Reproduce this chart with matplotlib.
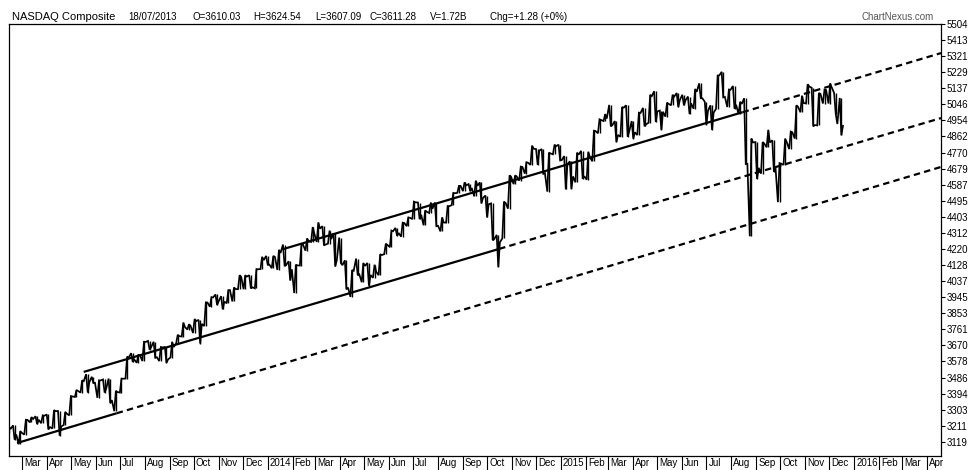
import matplotlib
matplotlib.use('Agg')
import matplotlib.pyplot as plt
import matplotlib.transforms as mtransforms
import matplotlib.dates as mdates
import pandas as pd
import numpy as np

plt.rcParams['font.family'] = ['Liberation Sans', 'DejaVu Sans']

# ---------------- data (weekly, week ending Friday) ----------------
first_week = '2013-02-15'
highs = [
    # 2013
    3205, 3213, 3180, 3245, 3260, 3265, 3270, 3275, 3300, 3295, 3290,
    3380, 3415, 3470, 3505, 3490, 3470, 3475, 3480, 3410, 3480, 3605, 3625, 3615,
    3690, 3695, 3690, 3660, 3660, 3690, 3730, 3800, 3790, 3820, 3815, 3915, 3945,
    3960, 3950, 3985, 4000, 4070, 4070, 4070, 4105, 4175,
    # 2014
    4180, 4180, 4215, 4245, 4150, 4130, 4245, 4280, 4345, 4371, 4350, 4325, 4310,
    4285, 4155, 4100, 4165, 4140, 4140, 4130, 4190, 4250, 4325, 4340, 4370, 4400,
    4490, 4485, 4440, 4485, 4485, 4400, 4465, 4540, 4580, 4600, 4590, 4610, 4600,
    4525, 4480, 4300, 4490, 4640, 4640, 4690, 4715, 4810, 4790, 4790, 4770, 4815,
    # 2015
    4815, 4750, 4720, 4770, 4780, 4775, 4895, 4960, 4990, 5042, 4950, 5030, 5040,
    4950, 4998, 5025, 5100, 5120, 5010, 5055, 5100, 5110, 5100, 5090, 5133, 5165,
    5060, 5040, 5210, 5231, 5130, 5150, 5060, 5080, 4850, 4830, 4830, 4900, 4840,
    4710, 4850, 4890, 5040, 5095, 5160, 5140, 5110, 5130, 5165, 5110, 5082,
]
lows = [
    # 2013
    3170, 3131, 3105, 3160, 3230, 3220, 3225, 3190, 3195, 3154, 3215,
    3270, 3375, 3400, 3400, 3455, 3370, 3400, 3340, 3294, 3400, 3480, 3575, 3570,
    3580, 3645, 3600, 3580, 3570, 3600, 3680, 3720, 3760, 3740, 3680, 3780, 3890,
    3900, 3875, 3910, 3920, 3990, 3990, 3995, 3995, 4105,
    # 2014
    4130, 4110, 4100, 4125, 4040, 3968, 4125, 4210, 4260, 4260, 4240, 4250, 4120,
    4140, 3990, 3946, 4070, 4030, 4010, 4055, 4070, 4190, 4230, 4295, 4290, 4350,
    4390, 4390, 4355, 4425, 4350, 4320, 4370, 4470, 4540, 4550, 4550, 4520, 4480,
    4400, 4270, 4117, 4280, 4450, 4590, 4610, 4650, 4700, 4700, 4650, 4547, 4760,
    # 2015
    4725, 4560, 4563, 4600, 4620, 4615, 4720, 4880, 4950, 4920, 4830, 4860, 4860,
    4850, 4870, 4920, 4940, 4945, 4900, 4975, 5040, 5030, 5040, 4990, 5020, 5080,
    4930, 4900, 5020, 5085, 5030, 5020, 4990, 4705, 4292, 4620, 4650, 4800, 4660,
    4487, 4700, 4790, 4850, 5000, 5050, 4920, 4925, 5050, 5050, 4990, 4869,
]
closes = [
    # 2013
    3192, 3161, 3170, 3244, 3249, 3245, 3268, 3203, 3294, 3206, 3279,
    3378, 3409, 3465, 3459, 3456, 3469, 3423, 3357, 3403, 3479, 3600, 3588, 3613,
    3689, 3660, 3602, 3658, 3590, 3660, 3722, 3774, 3781, 3808, 3792, 3914, 3943,
    3922, 3919, 3985, 3991, 4060, 4062, 4001, 4104, 4156,
    # 2014
    4131, 4174, 4197, 4128, 4104, 4126, 4244, 4263, 4308, 4336, 4245, 4276, 4155,
    4127, 3999, 4095, 4075, 4123, 4071, 4090, 4185, 4243, 4321, 4311, 4368, 4398,
    4486, 4415, 4432, 4449, 4352, 4371, 4464, 4538, 4580, 4583, 4568, 4580, 4512,
    4475, 4276, 4258, 4483, 4631, 4633, 4688, 4712, 4792, 4781, 4653, 4765, 4807,
    # 2015
    4727, 4704, 4634, 4758, 4635, 4744, 4893, 4956, 4964, 4927, 4871, 5026, 4892,
    4886, 4996, 4932, 5092, 5005, 5003, 5048, 5090, 5070, 5068, 5051, 5117, 5080,
    5009, 4998, 5210, 5088, 5128, 5043, 5048, 4706, 4828, 4683, 4822, 4828, 4686,
    4707, 4830, 4886, 5032, 5053, 5147, 4927, 5105, 5127, 5142, 4933, 4923,
]

# trend-line anchors (date, value)
upper_dates = ['2014-01-21', '2016-04-18']
upper_vals = [4220, 5338]
upper_solid_end = '2015-08-15'
mid_dates = ['2013-05-17', '2016-04-18']
mid_vals = [3518, 4967]
mid_solid_end = '2014-10-16'
lower_dates = ['2013-02-23', '2016-04-18']
lower_vals = [3112, 4688]
lower_solid_end = '2013-06-27'

y_ticks = [3119, 3211, 3303, 3394, 3486, 3578, 3670, 3761, 3853, 3945, 4037,
           4128, 4220, 4312, 4403, 4495, 4587, 4679, 4770, 4862, 4954, 5046,
           5137, 5229, 5321, 5413, 5504]
month_labels = ['Mar', 'Apr', 'May', 'Jun', 'Jul', 'Aug', 'Sep', 'Oct', 'Nov', 'Dec',
                '2014', 'Feb', 'Mar', 'Apr', 'May', 'Jun', 'Jul', 'Aug', 'Sep', 'Oct', 'Nov', 'Dec',
                '2015', 'Feb', 'Mar', 'Apr', 'May', 'Jun', 'Jul', 'Aug', 'Sep', 'Oct', 'Nov', 'Dec',
                '2016', 'Feb', 'Mar', 'Apr']

# ---------------- figure ----------------
W, H = 979, 470
fig = plt.figure(figsize=(W / 100, H / 100), dpi=100)
L, R, T, B = 9, 941, 24, 456
ax = fig.add_axes([L / W, (H - B) / H, (R - L) / W, (B - T) / H])

weeks = pd.date_range(first_week, periods=len(closes), freq='W-FRI')
day = pd.Timedelta(days=1)

# weekly path through high/low/close to emulate the dense daily bars
xs, ys = [], []
prev = closes[0]
for i, d in enumerate(weeks):
    hi, lo, c = highs[i], lows[i], closes[i]
    if c >= prev:
        seq = [lo, hi, c]
    else:
        seq = [hi, lo, c]
    xs += [d - 4 * day, d - 2 * day, d]
    ys += seq
    prev = c
ax.plot(xs, ys, color='black', lw=1.25, solid_joinstyle='miter')
ax.vlines(weeks - 2 * day, lows, highs, color='black', lw=1.0)


def draw_trend(dates, vals, solid_end):
    d = pd.to_datetime(dates)
    x0, x1 = mdates.date2num(d[0]), mdates.date2num(d[1])
    xs_end = mdates.date2num(pd.Timestamp(solid_end))
    v_end = vals[0] + (vals[1] - vals[0]) * (xs_end - x0) / (x1 - x0)
    ax.plot([d[0], pd.Timestamp(solid_end)], [vals[0], v_end], color='black', lw=1.6,
            solid_capstyle='butt')
    ax.plot([pd.Timestamp(solid_end), d[1]], [v_end, vals[1]], color='black', lw=1.6,
            dashes=(2.9, 1.9), dash_capstyle='butt')


draw_trend(upper_dates, upper_vals, upper_solid_end)
draw_trend(mid_dates, mid_vals, mid_solid_end)
draw_trend(lower_dates, lower_vals, lower_solid_end)

ax.set_xlim(pd.Timestamp('2013-02-13'), pd.Timestamp('2016-04-18'))
ax.set_ylim(3038, 5504)

# y axis on the right
ax.yaxis.tick_right()
ax.set_yticks(y_ticks)
ax.set_yticklabels([str(v) for v in y_ticks], fontsize=7)
ax.tick_params(axis='y', length=3, width=0.8, pad=1.0, colors='black')

# x axis: month separators with labels to their right
month_starts = pd.date_range('2013-03-01', periods=len(month_labels), freq='MS')
ax.set_xticks(month_starts)
ax.set_xticklabels([])
ax.tick_params(axis='x', length=13, width=0.8, direction='out')
trans = mtransforms.blended_transform_factory(ax.transData, ax.transAxes)
off = mtransforms.ScaledTranslation(2 / 100, 0, fig.dpi_scale_trans)
ybelow = -(463 - B) / (B - T)
for d, lab in zip(month_starts, month_labels):
    ax.text(d, ybelow, lab, transform=trans + off, ha='left', va='center',
            fontsize=7, clip_on=False)

for s in ax.spines.values():
    s.set_linewidth(0.9)
    s.set_color('black')

# header
def ftext(x, y, s, **kw):
    fig.text(x / W, 1 - y / H, s, va='center', ha='left', **kw)

ftext(12, 17, 'NASDAQ Composite', fontsize=8)
ftext(128, 17, '18/07/2013', fontsize=7)
ftext(193, 17, 'O=3610.03', fontsize=7)
ftext(253, 17, 'H=3624.54', fontsize=7)
ftext(315, 17, 'L=3607.09', fontsize=7)
ftext(370, 17, 'C=3611.28', fontsize=7)
ftext(430, 17, 'V=1.72B', fontsize=7)
ftext(490, 17, 'Chg=+1.28 (+0%)', fontsize=7)
ftext(862, 17, 'ChartNexus.com', fontsize=7, color='#555555')

fig.savefig('out.png', dpi=100)
